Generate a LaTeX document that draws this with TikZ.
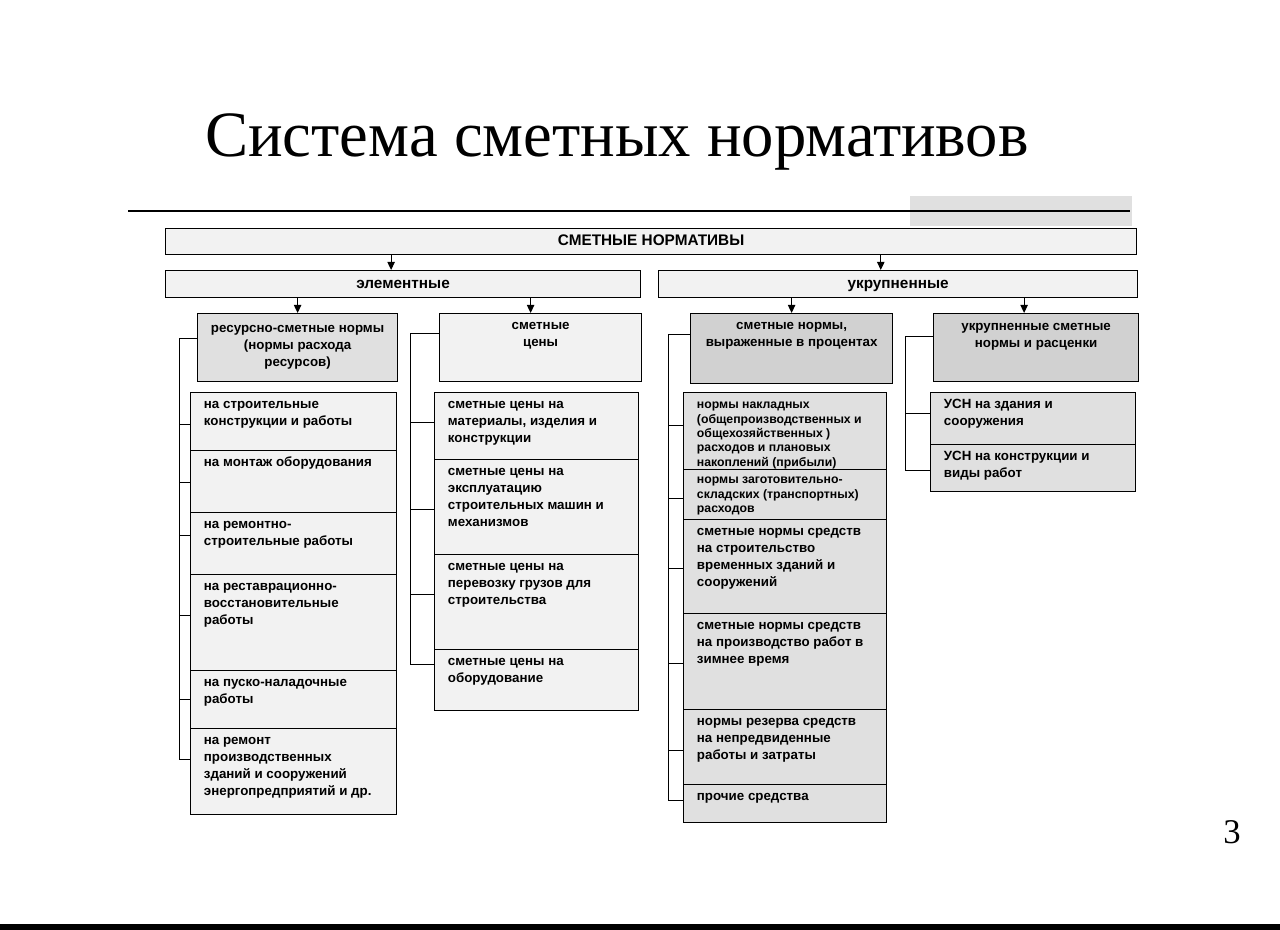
\documentclass[tikz,border=0pt]{standalone}
\usepackage{fontspec}
\setmainfont{Liberation Sans}
\newfontfamily\titlefont{Liberation Serif}
\usetikzlibrary{arrows.meta}
\colorlet{fillA}{black!5}
\colorlet{fillB}{black!12}
\colorlet{fillC}{black!18}
\def\padx{10}
\def\pady{3}
\newcommand\mkcell[8]{%
  \pgfmathsetmacro\cellw{(#4-#2)*0.75-2*\padx}%
  \pgfmathsetmacro\cellh{(#5-#3)*0.75-2*\pady}%
  \node[cell,#6,anchor=north west] (#1) at (#2,#3)
    {\begin{minipage}[t][\cellh pt][t]{\cellw pt}#7\strut#8\end{minipage}};%
}
\tikzset{
  cell/.style={draw=black, line width=0.9pt, inner xsep=\padx pt, inner ysep=\pady pt,
    font=\fontsize{10}{12.75}\bfseries\selectfont},
  small/.style={font=\fontsize{9.2}{10.8}\bfseries\selectfont},
  wide/.style={draw=black, line width=0.9pt, fill=fillA, inner sep=0pt, anchor=north west,
    text height=8.3pt, text depth=2.4pt,
    font=\fontsize{11.5}{13}\bfseries\selectfont},
  arr/.style={line width=0.8pt, -{Triangle[length=6pt,width=5.5pt]}},
  br/.style={line width=0.6pt},
}
\begin{document}
\begin{tikzpicture}[x=0.75pt,y=-0.75pt]
\useasboundingbox (0,0) rectangle (1280,930);
% title
\node[font=\titlefont\fontsize{48.5}{55}\selectfont, anchor=base, inner sep=0pt] (title) at (617,157) {Система сметных нормативов};
% shaded patch and rule
\fill[black!12] (910,196) rectangle (1132,226);
\coordinate (ruleL) at (128,211);
\coordinate (ruleR) at (1130,211);
\draw[line width=2.2pt] (ruleL) -- (ruleR);
% wide boxes
\node[wide, minimum width=728.25pt, minimum height=19.5pt] (top) at (165,228) {СМЕТНЫЕ НОРМАТИВЫ};
\node[wide, minimum width=356.25pt, minimum height=20.25pt] (elem) at (165,270) {элементные};
\node[wide, minimum width=359.25pt, minimum height=20.25pt] (ukr) at (658,270) {укрупненные};
% column 1
\mkcell{c1h}{197}{313}{397}{381}{fill=fillB}{\centering\vspace*{2pt}}{ресурсно-сметные нормы\\(нормы расхода\\ресурсов)}
\mkcell{c1a}{190}{392}{396}{450}{fill=fillA}{\raggedright}{на строительные\\конструкции и работы}
\mkcell{c1b}{190}{450}{396}{512}{fill=fillA}{\raggedright}{на монтаж оборудования}
\mkcell{c1c}{190}{512}{396}{574}{fill=fillA}{\raggedright}{на ремонтно-\\строительные работы}
\mkcell{c1d}{190}{574}{396}{670}{fill=fillA}{\raggedright}{на реставрационно-\\восстановительные\\работы}
\mkcell{c1e}{190}{670}{396}{728}{fill=fillA}{\raggedright}{на пуско-наладочные\\работы}
\mkcell{c1f}{190}{728}{396}{814}{fill=fillA}{\raggedright}{на ремонт\\производственных\\зданий и сооружений\\энергопредприятий и др.}
% column 2
\mkcell{c2h}{439}{313}{641}{381}{fill=fillA}{\centering}{сметные\\цены}
\mkcell{c2a}{434}{392}{638}{459}{fill=fillA}{\raggedright}{сметные цены на\\материалы, изделия и\\конструкции}
\mkcell{c2b}{434}{459}{638}{554}{fill=fillA}{\raggedright}{сметные цены на\\эксплуатацию\\строительных машин и\\механизмов}
\mkcell{c2c}{434}{554}{638}{649}{fill=fillA}{\raggedright}{сметные цены на\\перевозку грузов для\\строительства}
\mkcell{c2d}{434}{649}{638}{710}{fill=fillA}{\raggedright}{сметные цены на\\оборудование}
% column 3
\mkcell{c3h}{690}{313}{892}{383}{fill=fillC}{\centering}{сметные нормы,\\выраженные в процентах}
\mkcell{c3a}{683}{392}{886}{469}{fill=fillB,small}{\raggedright\vspace*{1.5pt}}{нормы накладных\\(общепроизводственных и\\общехозяйственных )\\расходов и плановых\\накоплений (прибыли)}
\mkcell{c3b}{683}{469}{886}{519}{fill=fillB,small}{\raggedright}{нормы заготовительно-\\складских (транспортных)\\расходов}
\mkcell{c3c}{683}{519}{886}{613}{fill=fillB}{\raggedright}{сметные нормы средств\\на строительство\\временных зданий и\\сооружений}
\mkcell{c3d}{683}{613}{886}{709}{fill=fillB}{\raggedright}{сметные нормы средств\\на производство работ в\\зимнее время}
\mkcell{c3e}{683}{709}{886}{784}{fill=fillB}{\raggedright}{нормы резерва средств\\на непредвиденные\\работы и затраты}
\mkcell{c3f}{683}{784}{886}{822}{fill=fillB}{\raggedright}{прочие средства}
% column 4
\mkcell{c4h}{933}{313}{1138}{381}{fill=fillC}{\centering\vspace*{1pt}}{укрупненные сметные\\нормы и расценки}
\mkcell{c4a}{930}{392}{1135}{444}{fill=fillB}{\raggedright}{УСН на здания и\\сооружения}
\mkcell{c4b}{930}{444}{1135}{491}{fill=fillB}{\raggedright}{УСН на конструкции и\\виды работ}
% arrows
\draw[arr] ([xshift=-9pt]elem.north |- top.south) -- ([xshift=-9pt]elem.north);
\draw[arr] ([xshift=-13pt]ukr.north |- top.south) -- ([xshift=-13pt]ukr.north);
\draw[arr] (c1h.north |- elem.south) -- (c1h.north);
\draw[arr] ([xshift=-7.5pt]c2h.north |- elem.south) -- ([xshift=-7.5pt]c2h.north);
\draw[arr] (c3h.north |- ukr.south) -- (c3h.north);
\draw[arr] ([xshift=-9pt]c4h.north |- ukr.south) -- ([xshift=-9pt]c4h.north);
% brackets
\coordinate (sp1) at (179,0);
\coordinate (sp2) at (410,0);
\coordinate (sp3) at (668,0);
\coordinate (sp4) at (905,0);
\draw[br] (sp1 |- 0,338) -- (sp1 |- 0,759);
\draw[br] (sp2 |- 0,333) -- (sp2 |- 0,664);
\draw[br] (sp3 |- 0,334) -- (sp3 |- 0,800);
\draw[br] (sp4 |- 0,336) -- (sp4 |- 0,470);
\foreach \n/\y in {c1h/338,c1a/424,c1b/482,c1c/535,c1d/615,c1e/699,c1f/759}
  \draw[br] (sp1 |- 0,\y) -- (\n.west |- 0,\y);
\foreach \n/\y in {c2h/333,c2a/422,c2b/509,c2c/594,c2d/664}
  \draw[br] (sp2 |- 0,\y) -- (\n.west |- 0,\y);
\foreach \n/\y in {c3h/334,c3a/425,c3b/498,c3c/568,c3d/663,c3e/750,c3f/800}
  \draw[br] (sp3 |- 0,\y) -- (\n.west |- 0,\y);
\foreach \n/\y in {c4h/336,c4a/413,c4b/470}
  \draw[br] (sp4 |- 0,\y) -- (\n.west |- 0,\y);
% page number and bottom edge
\node[font=\titlefont\fontsize{26}{28}\selectfont] (pnum) at (1232,832) {3};
\fill (0,924) rectangle (1280,930);
\end{tikzpicture}
\end{document}
